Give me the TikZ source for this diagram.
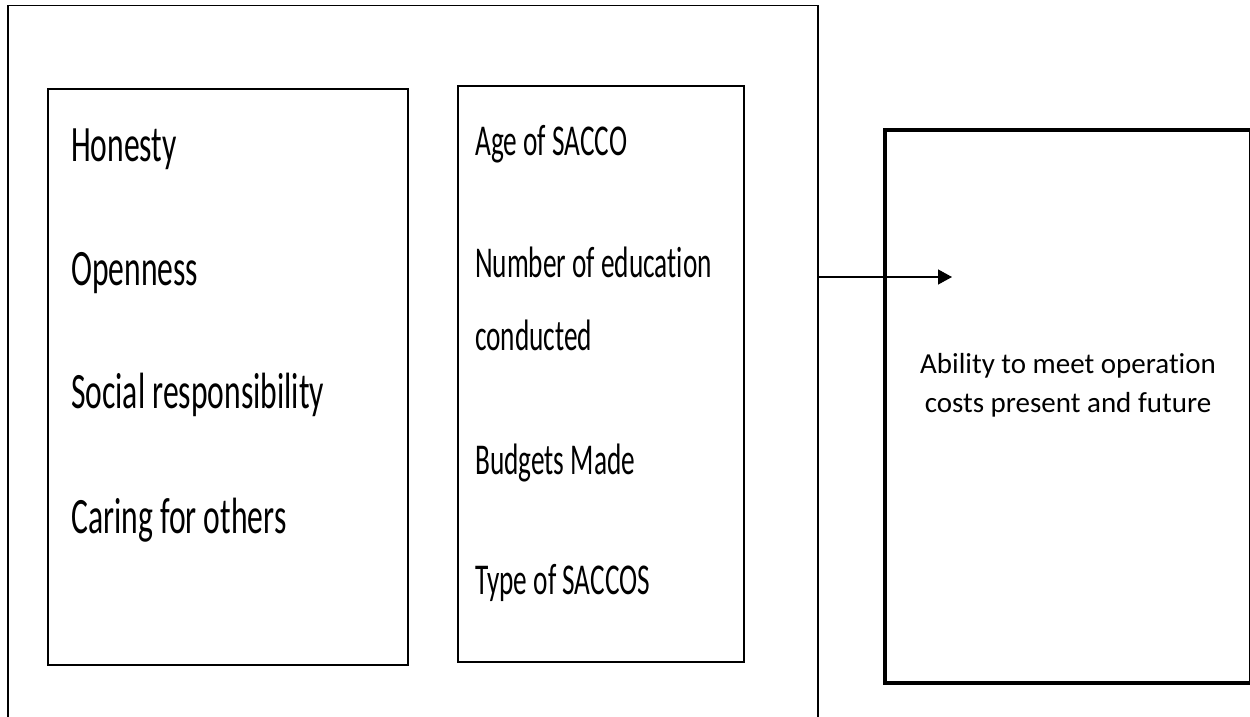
\documentclass[tikz,border=0pt]{standalone}
\usepackage{fontspec}
\setmainfont{Carlito}[Ligatures=NoCommon]
\newfontfamily\narrowfont{Carlito}[FakeStretch=0.62,Ligatures=NoCommon]
\usetikzlibrary{arrows.meta}
\begin{document}
\begin{tikzpicture}[x=1pt,y=-1pt,
  frame/.style={draw=black,line width=1.8pt},
  listbox/.style={draw=black,line width=2.6pt},
  outcome/.style={draw=black,line width=4.6pt},
  bigitem/.style={anchor=base west,inner sep=0pt,font=\narrowfont\fontsize{51}{51}\selectfont},
  miditem/.style={anchor=base west,inner sep=0pt,font=\narrowfont\fontsize{44}{44}\selectfont},
  smallitem/.style={anchor=base,inner sep=0pt,font=\fontsize{29}{29}\selectfont},
  link/.style={line width=1.3pt,-{Triangle[length=14pt,width=15pt]}}]
\useasboundingbox (0,0) rectangle (1250,717);
% enclosing frame (open at the bottom of the page)
\draw[frame] (8,730) -- (8,5.5) -- (818,5.5) -- (818,730);
\coordinate (frameR) at (818,277);
% value list
\draw[listbox] (48,89) rectangle (408,665);
\node[bigitem] (honesty) at (71,161) {Honesty};
\node[bigitem] (open) at (71,285) {Openness};
\node[bigitem] (social) at (71,408) {Social responsibility};
\node[bigitem] (caring) at (71,533) {Caring for others};
% indicator list
\draw[listbox] (458,86) rectangle (744,662);
\node[miditem] (age) at (475,155) {Age of SACCO};
\node[miditem] (number) at (475,277) {Number of education};
\node[miditem] (cond) at (475,350) {conducted};
\node[miditem] (budget) at (475,474) {Budgets Made};
\node[miditem] (type) at (475,594) {Type of SACCOS};
% outcome box
\draw[outcome] (885,130) rectangle (1251,683);
\node[smallitem] (abil1) at (1068,373) {Ability to meet operation};
\node[smallitem] (abil2) at (1068,412) {costs present and future};
% arrow from frame into outcome
\coordinate (tip) at (952,277);
\draw[link] (frameR) -- (tip);
\end{tikzpicture}
\end{document}
